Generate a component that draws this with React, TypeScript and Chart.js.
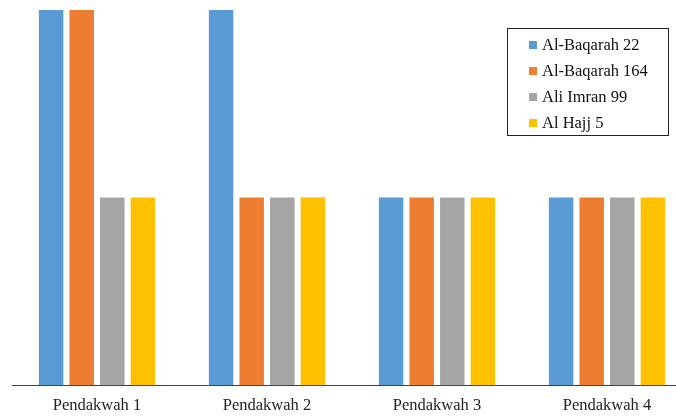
import React, { useEffect, useRef } from "react";
import { Chart, registerables } from "chart.js";

Chart.register(...registerables);

const categories = ["Pendakwah 1", "Pendakwah 2", "Pendakwah 3", "Pendakwah 4"];
const seriesNames = ["Al-Baqarah 22", "Al-Baqarah 164", "Ali Imran 99", "Al Hajj 5"];
const baqarah22 = [2, 2, 1, 1];
const baqarah164 = [2, 1, 1, 1];
const aliImran99 = [1, 1, 1, 1];
const alHajj5 = [1, 1, 1, 1];
const colors = ["#5B9BD5", "#ED7D31", "#A5A5A5", "#FFC000"];

const FONT = "'Liberation Serif', 'Times New Roman', serif";

export default function App() {
  const ref = useRef<HTMLCanvasElement | null>(null);
  useEffect(() => {
    if (!ref.current) return;
    const values = [baqarah22, baqarah164, aliImran99, alHajj5];
    const chart = new Chart(ref.current, {
      type: "bar",
      data: {
        labels: categories,
        datasets: values.map((v, i) => ({
          label: seriesNames[i],
          data: v,
          backgroundColor: colors[i],
          borderWidth: 0,
          barPercentage: 0.8,
          categoryPercentage: 0.72,
        })),
      },
      options: {
        animation: false,
        responsive: false,
        maintainAspectRatio: false,
        layout: { padding: { left: 12, right: 8, top: 10, bottom: 2 } },
        plugins: { legend: { display: false }, tooltip: { enabled: false } },
        scales: {
          x: {
            grid: { display: false, drawTicks: false },
            border: { display: true, color: "#404040", width: 1 },
            ticks: { color: "#222", padding: 11, font: { family: FONT, size: 16.5 } },
          },
          y: { display: false, min: 0, max: 2 },
        },
      },
    });
    return () => chart.destroy();
  }, []);

  return (
    <div style={{ position: "fixed", left: 0, top: 0, width: 676, height: 416, overflow: "hidden", background: "#fff" }}>
      <canvas ref={ref} width={700} height={429} style={{ width: 700, height: 429, display: "block" }} />
      <div
        style={{
          position: "absolute",
          left: 507,
          top: 28,
          width: 160,
          height: 106,
          border: "1px solid #222",
          boxSizing: "content-box",
          fontFamily: FONT,
          fontSize: 16.5,
          color: "#111",
        }}
      >
        {seriesNames.map((n, i) => (
          <div key={n} style={{ position: "absolute", left: 21, top: 6 + i * 26, height: 20, display: "flex", alignItems: "center", whiteSpace: "nowrap" }}>
            <span style={{ display: "inline-block", width: 8, height: 8, background: colors[i], marginRight: 5 }} />
            <span>{n}</span>
          </div>
        ))}
      </div>
    </div>
  );
}
